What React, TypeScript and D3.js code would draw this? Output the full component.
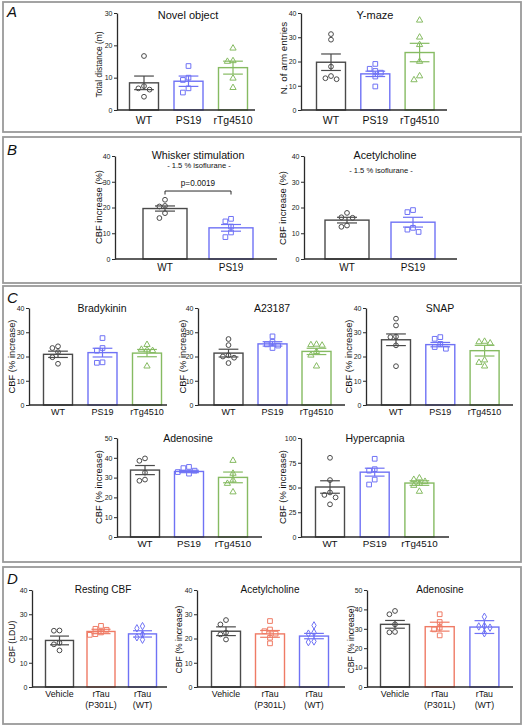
import React, { useEffect, useRef } from "react";
import * as d3 from "d3";

const FONT = "'Liberation Sans', Arial, Helvetica, sans-serif";
const GRAY = "#4a4a4a";
const BLUE = "#6f72f5";
const GREEN = "#86bb62";
const SALMON = "#ef7b65";
const AXIS = "#2a2a2a";
const BORDER = "#9a9a9a";

// ---------- categories ----------
const groupsTg = ["WT", "PS19", "rTg4510"];
const groupsPS = ["WT", "PS19"];
const groupsTau = ["Vehicle", "rTau\n(P301L)", "rTau\n(WT)"];

const colorsTg = [GRAY, BLUE, GREEN];
const colorsPS = [GRAY, BLUE];
const colorsTau = [GRAY, SALMON, BLUE];
const shapesTg = ["circle", "square", "triangle"];
const shapesPS = ["circle", "square"];
const shapesTau = ["circle", "square", "diamond"];

// ---------- tick values ----------
const ticks30 = [0, 10, 20, 30];
const ticks40 = [0, 10, 20, 30, 40];
const ticks50 = [0, 10, 20, 30, 40, 50];
const ticks100 = [0, 25, 50, 75, 100];

// ---------- A: Novel object ----------
const novelPoints = [
  [16.7, 7.4, 6.7, 6.3, 4.1],
  [13.6, 10, 9.3, 6.7, 5.4],
  [19.1, 15.2, 15, 9.8, 6.9],
];
const novelMeans = [8.4, 8.9, 13.1];
const novelSems = [2.1, 1.6, 2.0];

// ---------- A: Y-maze ----------
const ymazePoints = [
  [31.3, 29, 17.9, 14, 13.1, 12.7],
  [19, 17, 16.1, 15.4, 13.8, 9.7],
  [37, 30, 26.9, 20, 14, 12.4],
];
const ymazeMeans = [19.7, 14.9, 23.7];
const ymazeSems = [3.4, 1.1, 3.8];

// ---------- B: Whisker stimulation ----------
const whiskerPoints = [
  [23, 20.6, 20.4, 17.8, 15.9],
  [15.6, 14.6, 12.6, 10.3, 8.5],
];
const whiskerMeans = [19.6, 12.1];
const whiskerSems = [1.0, 1.3];

// ---------- B: Acetylcholine ----------
const achBPoints = [
  [17.9, 16.2, 16, 13, 12.5],
  [19, 18.2, 12.1, 11.4, 10.5],
];
const achBMeans = [15.1, 14.3];
const achBSems = [1.1, 1.9];

// ---------- C: Bradykinin ----------
const bradyPoints = [
  [24.2, 23.5, 21.8, 19.7, 17],
  [27.6, 23.5, 22.4, 17.6, 17.4],
  [24.9, 22.9, 22.7, 22.4, 16],
];
const bradyMeans = [20.9, 21.6, 21.4];
const bradySems = [1.3, 1.8, 1.5];

// ---------- C: A23187 ----------
const a23Points = [
  [27.2, 24.7, 20.5, 20, 19.5, 17.3],
  [28.3, 26, 25, 24.5, 23.5],
  [25, 24.8, 24.6, 22, 20.5, 16],
];
const a23Means = [21.4, 25.2, 22.1];
const a23Sems = [1.6, 0.9, 1.3];

// ---------- C: SNAP ----------
const snapPoints = [
  [35.6, 32.8, 28.2, 28, 24.6, 16],
  [28, 27.3, 25.2, 23.9, 23.2],
  [26.2, 26, 25.5, 18.5, 17.5, 16],
];
const snapMeans = [26.9, 24.9, 22.4];
const snapSems = [2.4, 0.9, 2.2];

// ---------- C: Adenosine ----------
const adenCPoints = [
  [39.7, 38.5, 32.5, 29, 28.4],
  [35.4, 34.8, 33.5, 32.8, 32],
  [38.6, 32.1, 28.7, 27, 22.7],
];
const adenCMeans = [33.8, 33.1, 30.1];
const adenCSems = [2.3, 0.6, 2.7];

// ---------- C: Hypercapnia ----------
const hyperPoints = [
  [80, 57.5, 45, 42.5, 40, 33],
  [79, 68.5, 67, 58, 53],
  [59.5, 58, 56, 54, 52, 46],
];
const hyperMeans = [50.5, 65.5, 54.5];
const hyperSems = [6.3, 4.0, 2.3];

// ---------- D: Resting CBF ----------
const restPoints = [
  [23.3, 23.2, 18.2, 17.6, 15.1],
  [25.2, 24, 23.6, 22.5, 21.8, 21.5],
  [25.1, 24.2, 21.7, 20.5, 19.5],
];
const restMeans = [19.2, 22.9, 21.9];
const restSems = [1.8, 0.9, 1.3];

// ---------- D: Acetylcholine ----------
const achDPoints = [
  [27.6, 25.8, 22.4, 21.7, 19.6],
  [27.2, 23.7, 23, 22, 20.3, 18],
  [25.4, 22.5, 22, 18.8, 18.5],
];
const achDMeans = [23.0, 21.9, 21.0];
const achDSems = [1.8, 1.4, 1.1];

// ---------- D: Adenosine ----------
const adenDPoints = [
  [39.2, 37.5, 32.3, 28.4, 28.2],
  [37.5, 33.5, 30.6, 29.7, 26.6],
  [36.2, 31.4, 31.2, 30.6, 27.7],
];
const adenDMeans = [32.3, 31.1, 30.9];
const adenDSems = [2.0, 2.3, 3.3];

type Layout = {
  axisX: number; y0: number; yTop: number; c0: number; dx: number; barW: number; axisEnd: number;
  titleX: number; titleY: number; titleSize: number;
  subX?: number; subY?: number;
  ylX: number; ylY: number; ylSize: number;
  catY: number; catSize: number;
};

type ChartCfg = {
  groups: string[]; colors: string[]; shapes: string[];
  points: number[][]; means: number[]; sems: number[];
  ticks: number[]; max: number; title: string; subtitle?: string; ylabel: string;
  bracket?: { from: number; to: number; value: number; label: string };
  L: Layout;
};

const charts: ChartCfg[] = [
  {
    groups: groupsTg, colors: colorsTg, shapes: shapesTg, points: novelPoints, means: novelMeans, sems: novelSems,
    ticks: ticks30, max: 30, title: "Novel object", ylabel: "Total distance (m)",
    L: { axisX: 117, y0: 110, yTop: 13, c0: 144, dx: 44.5, barW: 29, axisEnd: 255, titleX: 188, titleY: 19, titleSize: 11,
      ylX: 99, ylY: 64.5, ylSize: 8.4, catY: 124, catSize: 10.5 },
  },
  {
    groups: groupsTg, colors: colorsTg, shapes: shapesTg, points: ymazePoints, means: ymazeMeans, sems: ymazeSems,
    ticks: ticks40, max: 40, title: "Y-maze", ylabel: "N. of arm entries",
    L: { axisX: 301, y0: 110, yTop: 13, c0: 331, dx: 44.3, barW: 29, axisEnd: 447, titleX: 375, titleY: 19, titleSize: 11,
      ylX: 283.5, ylY: 58, ylSize: 9.8, catY: 124, catSize: 10.5 },
  },
  {
    groups: groupsPS, colors: colorsPS, shapes: shapesPS, points: whiskerPoints, means: whiskerMeans, sems: whiskerSems,
    ticks: ticks40, max: 40, title: "Whisker stimulation", subtitle: "- 1.5 % isoflurane -", ylabel: "CBF increase (%)",
    bracket: { from: 0, to: 1, value: 26.4, label: "p=0.0019" },
    L: { axisX: 115, y0: 259, yTop: 156, c0: 165, dx: 66, barW: 44, axisEnd: 277, titleX: 198, titleY: 159, titleSize: 10.7,
      subX: 199, subY: 168, ylX: 99, ylY: 207, ylSize: 9.4, catY: 271, catSize: 10 },
  },
  {
    groups: groupsPS, colors: colorsPS, shapes: shapesPS, points: achBPoints, means: achBMeans, sems: achBSems,
    ticks: ticks40, max: 40, title: "Acetylcholine", subtitle: "- 1.5 % isoflurane -", ylabel: "CBF increase (%)",
    L: { axisX: 304, y0: 259, yTop: 156, c0: 347, dx: 66, barW: 44, axisEnd: 457, titleX: 385, titleY: 159, titleSize: 10.7,
      subX: 381, subY: 173, ylX: 283, ylY: 208, ylSize: 9.4, catY: 271, catSize: 10 },
  },
  {
    groups: groupsTg, colors: colorsTg, shapes: shapesTg, points: bradyPoints, means: bradyMeans, sems: bradySems,
    ticks: ticks40, max: 40, title: "Bradykinin", ylabel: "CBF (% increase)",
    L: { axisX: 29, y0: 405, yTop: 308, c0: 58, dx: 44.5, barW: 29, axisEnd: 167, titleX: 102, titleY: 312, titleSize: 10.5,
      ylX: 11.5, ylY: 356.5, ylSize: 9.4, catY: 415, catSize: 9 },
  },
  {
    groups: groupsTg, colors: colorsTg, shapes: shapesTg, points: a23Points, means: a23Means, sems: a23Sems,
    ticks: ticks40, max: 40, title: "A23187", ylabel: "CBF (% increase)",
    L: { axisX: 198, y0: 405, yTop: 308, c0: 228.5, dx: 44, barW: 29, axisEnd: 345, titleX: 272, titleY: 312, titleSize: 10.5,
      ylX: 182.5, ylY: 356.5, ylSize: 9.4, catY: 415, catSize: 9 },
  },
  {
    groups: groupsTg, colors: colorsTg, shapes: shapesTg, points: snapPoints, means: snapMeans, sems: snapSems,
    ticks: ticks40, max: 40, title: "SNAP", ylabel: "CBF (% increase)",
    L: { axisX: 366, y0: 405, yTop: 308, c0: 396, dx: 44.3, barW: 29, axisEnd: 513, titleX: 440, titleY: 312, titleSize: 10.5,
      ylX: 349, ylY: 356.5, ylSize: 9.4, catY: 415, catSize: 9 },
  },
  {
    groups: groupsTg, colors: colorsTg, shapes: shapesTg, points: adenCPoints, means: adenCMeans, sems: adenCSems,
    ticks: ticks50, max: 50, title: "Adenosine", ylabel: "CBF (% increase)",
    L: { axisX: 117, y0: 537, yTop: 438, c0: 145, dx: 44, barW: 29, axisEnd: 262, titleX: 188, titleY: 442, titleSize: 10.5,
      ylX: 98.5, ylY: 487, ylSize: 9.4, catY: 547, catSize: 9.8 },
  },
  {
    groups: groupsTg, colors: colorsTg, shapes: shapesTg, points: hyperPoints, means: hyperMeans, sems: hyperSems,
    ticks: ticks100, max: 100, title: "Hypercapnia", ylabel: "CBF (% increase)",
    L: { axisX: 301, y0: 537, yTop: 438, c0: 330, dx: 44.7, barW: 29, axisEnd: 449, titleX: 375, titleY: 442, titleSize: 10.5,
      ylX: 282.5, ylY: 487, ylSize: 9.4, catY: 547, catSize: 9.8 },
  },
  {
    groups: groupsTau, colors: colorsTau, shapes: shapesTau, points: restPoints, means: restMeans, sems: restSems,
    ticks: ticks40, max: 40, title: "Resting CBF", ylabel: "CBF (LDU)",
    L: { axisX: 32, y0: 687, yTop: 590, c0: 59.5, dx: 41.5, barW: 28, axisEnd: 167, titleX: 103, titleY: 593, titleSize: 10,
      ylX: 12, ylY: 642, ylSize: 8.6, catY: 697, catSize: 8.8 },
  },
  {
    groups: groupsTau, colors: colorsTau, shapes: shapesTau, points: achDPoints, means: achDMeans, sems: achDSems,
    ticks: ticks40, max: 40, title: "Acetylcholine", ylabel: "CBF (% increase)",
    L: { axisX: 197, y0: 687, yTop: 590, c0: 226, dx: 44, barW: 29, axisEnd: 345, titleX: 270, titleY: 593, titleSize: 10,
      ylX: 179, ylY: 639.5, ylSize: 8.6, catY: 697, catSize: 8.8 },
  },
  {
    groups: groupsTau, colors: colorsTau, shapes: shapesTau, points: adenDPoints, means: adenDMeans, sems: adenDSems,
    ticks: ticks50, max: 50, title: "Adenosine", ylabel: "CBF (% increase)",
    L: { axisX: 367, y0: 687, yTop: 590, c0: 395, dx: 44.7, barW: 29, axisEnd: 513, titleX: 440, titleY: 593, titleSize: 10,
      ylX: 351, ylY: 639.5, ylSize: 8.6, catY: 697, catSize: 8.8 },
  },
];

const panels = [
  { label: "A", top: 2, bottom: 132, ly: 17 },
  { label: "B", top: 137, bottom: 283, ly: 155 },
  { label: "C", top: 286, bottom: 562, ly: 303 },
  { label: "D", top: 567, bottom: 724, ly: 584 },
];

const symbolTypes: Record<string, any> = {
  circle: d3.symbolCircle,
  square: d3.symbolSquare,
  triangle: d3.symbolTriangle,
  diamond: d3.symbolDiamond,
};
const symbolSizes: Record<string, number> = { circle: 18, square: 22, triangle: 17, diamond: 16 };

function dodge(vals: number[], y: (v: number) => number, cx: number, step: number, minDist: number) {
  const placed: [number, number][] = [];
  return vals.map((v) => {
    const py = y(v);
    for (const k of [0, -1, 1, -2, 2, -3, 3]) {
      const px = cx + k * step;
      if (placed.every(([qx, qy]) => Math.hypot(qx - px, qy - py) >= minDist)) {
        placed.push([px, py]);
        return [px, py];
      }
    }
    placed.push([cx, py]);
    return [cx, py];
  });
}

function YAxis({ scale, ticks, x }: { scale: any; ticks: number[]; x: number }) {
  const ref = useRef<SVGGElement>(null);
  useEffect(() => {
    const g = d3.select(ref.current as SVGGElement);
    g.call(d3.axisLeft(scale).tickValues(ticks).tickSize(3).tickSizeOuter(0).tickPadding(1.5) as any);
    g.attr("font-size", null).attr("font-family", null);
    g.select(".domain").attr("stroke", AXIS).attr("stroke-width", 1.3);
    g.selectAll(".tick line").attr("stroke", AXIS).attr("stroke-width", 1);
    g.selectAll(".tick text").attr("font-size", 7).attr("font-family", FONT).attr("fill", "#222");
  }, [scale, ticks]);
  return <g ref={ref} transform={`translate(${x},0)`} />;
}

function Chart({ c }: { c: ChartCfg }) {
  const L = c.L;
  const y = d3.scaleLinear().domain([0, c.max]).range([L.y0, L.yTop]);
  const x = d3.scaleLinear().domain([0, 1]).range([L.c0, L.c0 + L.dx]);
  const capW = Math.min(20, L.barW * 0.68);
  const sym = d3.symbol();
  return (
    <g>
      {c.groups.map((g, i) => {
        const cx = x(i);
        const col = c.colors[i];
        const top = y(c.means[i]);
        const pts = dodge(c.points[i], y, cx, 5.6, 5.2);
        const hi = y(c.means[i] + c.sems[i]);
        const lo = y(c.means[i] - c.sems[i]);
        const path = sym.type(symbolTypes[c.shapes[i]]).size(symbolSizes[c.shapes[i]])() as string;
        const lines = g.split("\n");
        return (
          <g key={i}>
            <rect x={cx - L.barW / 2} y={top} width={L.barW} height={L.y0 - top} fill="white" stroke={col} strokeWidth={1.4} />
            {pts.map(([px, py], j) => (
              <path key={j} d={path} transform={`translate(${px},${py})`} fill="none" stroke={col} strokeWidth={1} />
            ))}
            <line x1={cx} x2={cx} y1={hi} y2={lo} stroke={col} strokeWidth={1.2} />
            <line x1={cx - capW / 2} x2={cx + capW / 2} y1={hi} y2={hi} stroke={col} strokeWidth={1.2} />
            <line x1={cx - capW / 2} x2={cx + capW / 2} y1={lo} y2={lo} stroke={col} strokeWidth={1.2} />
            <text x={cx} y={L.catY} textAnchor="middle" fontSize={L.catSize} fontFamily={FONT} fill="#111">
              {lines.map((t, k) => (
                <tspan key={k} x={cx} dy={k === 0 ? 0 : L.catSize * 1.3}>{t}</tspan>
              ))}
            </text>
          </g>
        );
      })}
      <line x1={L.axisX} x2={L.axisEnd} y1={L.y0} y2={L.y0} stroke={AXIS} strokeWidth={1.3} />
      <YAxis scale={y} ticks={c.ticks} x={L.axisX} />
      <text x={L.titleX} y={L.titleY} textAnchor="middle" fontSize={L.titleSize} fontFamily={FONT} fill="#111">{c.title}</text>
      {c.subtitle && (
        <text x={L.subX} y={L.subY} textAnchor="middle" fontSize={7.6} fontFamily={FONT} fill="#111">{c.subtitle}</text>
      )}
      <text transform={`translate(${L.ylX},${L.ylY}) rotate(-90)`} textAnchor="middle" dy="0.35em" fontSize={L.ylSize} fontFamily={FONT} fill="#111">
        {c.ylabel}
      </text>
      {c.bracket && (() => {
        const b = c.bracket;
        const by = y(b.value);
        const x1 = x(b.from), x2 = x(b.to);
        return (
          <g>
            <path d={`M${x1},${by + 3.5}V${by}H${x2}V${by + 3.5}`} fill="none" stroke={AXIS} strokeWidth={1} />
            <text x={(x1 + x2) / 2} y={by - 5} textAnchor="middle" fontSize={8.2} fontFamily={FONT} fill="#111">{b.label}</text>
          </g>
        );
      })()}
    </g>
  );
}

export default function App() {
  return (
    <svg width={524} height={726} style={{ position: "absolute", left: 0, top: 0, background: "white" }}>
      <rect x={0} y={0} width={524} height={726} fill="white" />
      {panels.map((p) => (
        <g key={p.label}>
          <rect x={3} y={p.top} width={518} height={p.bottom - p.top} fill="none" stroke={BORDER} strokeWidth={1.8} />
          <text x={7} y={p.ly} fontSize={15} fontStyle="italic" fontFamily={FONT} fill="#111">{p.label}</text>
        </g>
      ))}
      {charts.map((c, i) => (
        <Chart key={i} c={c} />
      ))}
    </svg>
  );
}
